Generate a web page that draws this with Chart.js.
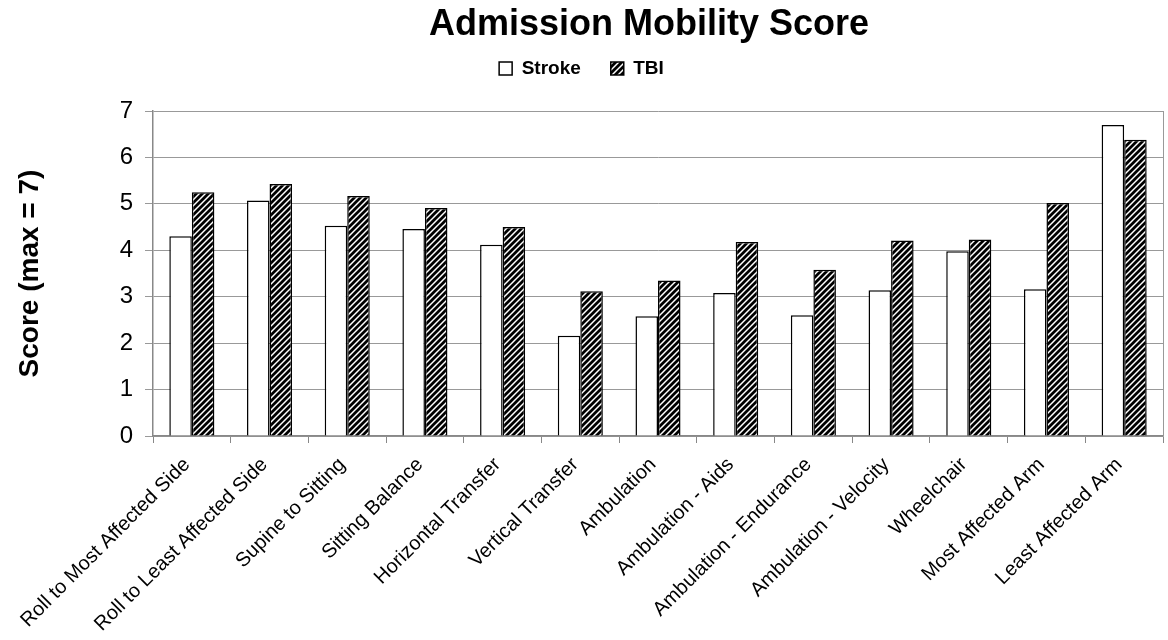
<!DOCTYPE html>
<html>
<head>
<meta charset="utf-8">
<script src="https://cdn.jsdelivr.net/npm/chart.js@4.4.1/dist/chart.umd.min.js"></script>
<style>
  html, body { margin: 0; padding: 0; background: #fff; }
</style>
</head>
<body>
<canvas id="chart" width="1168" height="640"></canvas>
<script>
// data
const categories = [
  "Roll to Most Affected Side", "Roll to Least Affected Side", "Supine to Sitting",
  "Sitting Balance", "Horizontal Transfer", "Vertical Transfer", "Ambulation",
  "Ambulation - Aids", "Ambulation - Endurance", "Ambulation - Velocity",
  "Wheelchair", "Most Affected Arm", "Least Affected Arm"
];
const strokeScores = [4.30, 5.07, 4.53, 4.46, 4.12, 2.16, 2.58, 3.08, 2.60, 3.14, 3.98, 3.16, 6.70];
const tbiScores = [5.25, 5.43, 5.17, 4.91, 4.50, 3.12, 3.35, 4.18, 3.58, 4.21, 4.23, 5.02, 6.38];
const yTicks = [0, 1, 2, 3, 4, 5, 6, 7];

const FONT = "Arial, 'Liberation Sans', sans-serif";
const LEGEND_HEIGHT = 82; // room between top padding and the plot

// diagonal black/white hatch for TBI bars
function makeHatch() {
  const c = document.createElement("canvas");
  c.width = 6;
  c.height = 6;
  const g = c.getContext("2d");
  g.fillStyle = "#fff";
  g.fillRect(0, 0, 6, 6);
  g.strokeStyle = "#000";
  g.lineWidth = 2.8;
  g.beginPath();
  g.moveTo(-1, 7); g.lineTo(7, -1);
  g.moveTo(-1, 1); g.lineTo(1, -1);
  g.moveTo(5, 7); g.lineTo(7, 5);
  g.stroke();
  return g.createPattern(c, "repeat");
}

// title drawn by hand so it can sit over the plot like the original
const titlePlugin = {
  id: "mainTitle",
  afterDraw(chart) {
    const ctx = chart.ctx;
    ctx.save();
    ctx.font = "bold 36px " + FONT;
    ctx.fillStyle = "#000";
    ctx.textAlign = "center";
    ctx.textBaseline = "alphabetic";
    ctx.fillText("Admission Mobility Score", 649, 35);
    ctx.restore();
  }
};

// keep a fixed gap under the legend
const legendGapPlugin = {
  id: "legendGap",
  afterInit(chart) {
    const lg = chart.legend;
    if (!lg) return;
    const fit = lg.fit.bind(lg);
    lg.fit = function () {
      fit();
      this.height = LEGEND_HEIGHT;
    };
  }
};

// right edge of the plot box
const framePlugin = {
  id: "frame",
  beforeDatasetsDraw(chart) {
    const a = chart.chartArea;
    const ctx = chart.ctx;
    ctx.save();
    ctx.strokeStyle = "#999";
    ctx.lineWidth = 1;
    ctx.beginPath();
    ctx.moveTo(Math.round(a.right) + 0.5, a.top);
    ctx.lineTo(Math.round(a.right) + 0.5, a.bottom);
    ctx.stroke();
    ctx.restore();
  }
};

const hatch = makeHatch();

new Chart(document.getElementById("chart"), {
  type: "bar",
  data: {
    labels: categories,
    datasets: [
      {
        label: "Stroke",
        data: strokeScores,
        backgroundColor: "#fff",
        borderColor: "#000",
        borderWidth: 1.5,
        categoryPercentage: 0.58,
        barPercentage: 1
      },
      {
        label: "TBI",
        data: tbiScores,
        backgroundColor: hatch,
        borderColor: "#000",
        borderWidth: 1.5,
        categoryPercentage: 0.58,
        barPercentage: 1
      }
    ]
  },
  options: {
    responsive: false,
    animation: false,
    layout: { padding: { top: 29, right: 5, left: 0, bottom: 0 } },
    plugins: {
      title: { display: false },
      tooltip: { enabled: false },
      legend: {
        display: true,
        position: "top",
        labels: {
          boxWidth: 13,
          boxHeight: 13,
          padding: 30,
          color: "#000",
          font: { family: FONT, size: 19, weight: "bold" }
        }
      }
    },
    scales: {
      x: {
        afterFit: s => { s.height = 204; },
        grid: {
          display: true,
          drawOnChartArea: false,
          drawTicks: true,
          tickLength: 7,
          color: "#888"
        },
        border: { display: true, color: "#888", width: 1.5 },
        ticks: {
          autoSkip: false,
          maxRotation: 45,
          minRotation: 45,
          padding: 10,
          labelOffset: -5,
          color: "#000",
          font: { family: FONT, size: 20 }
        }
      },
      y: {
        min: 0,
        max: 7,
        afterFit: s => { s.width = 153; },
        afterBuildTicks: s => { s.ticks = yTicks.map(v => ({ value: v })); },
        grid: {
          color: "#999",
          lineWidth: 1,
          drawTicks: true,
          tickLength: 8
        },
        border: { display: true, color: "#888", width: 1.5 },
        ticks: {
          padding: 12,
          color: "#000",
          font: { family: FONT, size: 24 }
        },
        title: {
          display: true,
          text: "Score (max = 7)",
          color: "#000",
          padding: { top: 13, bottom: 0 },
          font: { family: FONT, size: 28, weight: "bold" }
        }
      }
    }
  },
  plugins: [legendGapPlugin, titlePlugin, framePlugin]
});
</script>
</body>
</html>
